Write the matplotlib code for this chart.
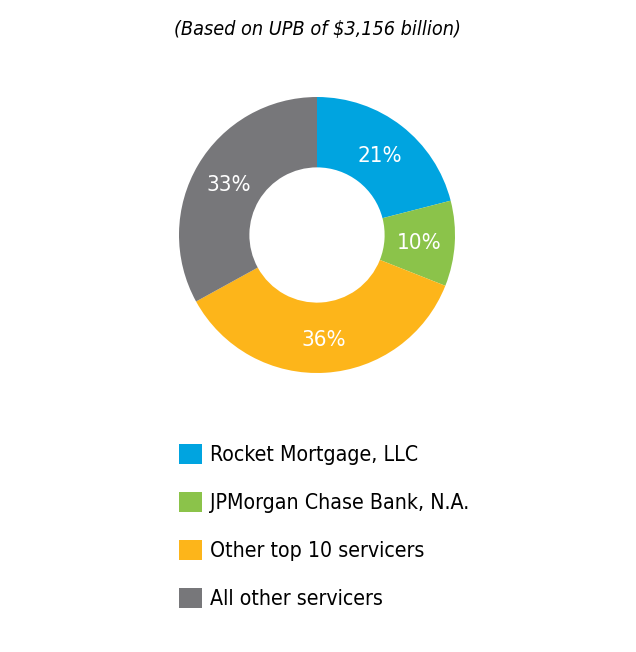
import matplotlib
matplotlib.use('Agg')
import matplotlib.pyplot as plt
from matplotlib.patches import Patch

labels = ['Rocket Mortgage, LLC', 'JPMorgan Chase Bank, N.A.',
          'Other top 10 servicers', 'All other servicers']
shares = [21, 10, 36, 33]
colors = ['#00a4e0', '#8bc34a', '#fdb51a', '#77777a']
title = '(Based on UPB of $3,156 billion)'

plt.rcParams['font.family'] = ['DejaVu Sans']
plt.rcParams['font.stretch'] = 'condensed'

W, H = 636, 652
fig = plt.figure(figsize=(W / 100, H / 100), dpi=100)

# donut: center ~ (317, 235) px, radius ~138 px
r = 138
cx, cy = 317, 235
ax = fig.add_axes([(cx - r) / W, (H - cy - r) / H, 2 * r / W, 2 * r / H])
wedges, texts = ax.pie(shares, colors=colors, startangle=90, counterclock=False,
                       radius=1, wedgeprops=dict(width=0.51, linewidth=0),
                       labels=[str(s) + '%' for s in shares], labeldistance=0.745,
                       textprops=dict(color='white', fontsize=16, ha='center',
                                      va='center_baseline'))
ax.set_xlim(-1, 1)
ax.set_ylim(-1, 1)
ax.set_aspect('equal')
ax.axis('off')

fig.text(cx / W, 1 - 30 / H, title, ha='center', va='center', fontsize=14.2, style='italic')

handles = [Patch(facecolor=c, edgecolor='none') for c in colors]
leg = fig.legend(handles, labels, loc='upper left', bbox_to_anchor=(168 / W, 1 - 433 / H),
                 frameon=False, fontsize=15.3, handlelength=1.1, handleheight=1.1,
                 handletextpad=0.38, labelspacing=1.25, borderpad=0)

fig.savefig('out.png', dpi=100)
